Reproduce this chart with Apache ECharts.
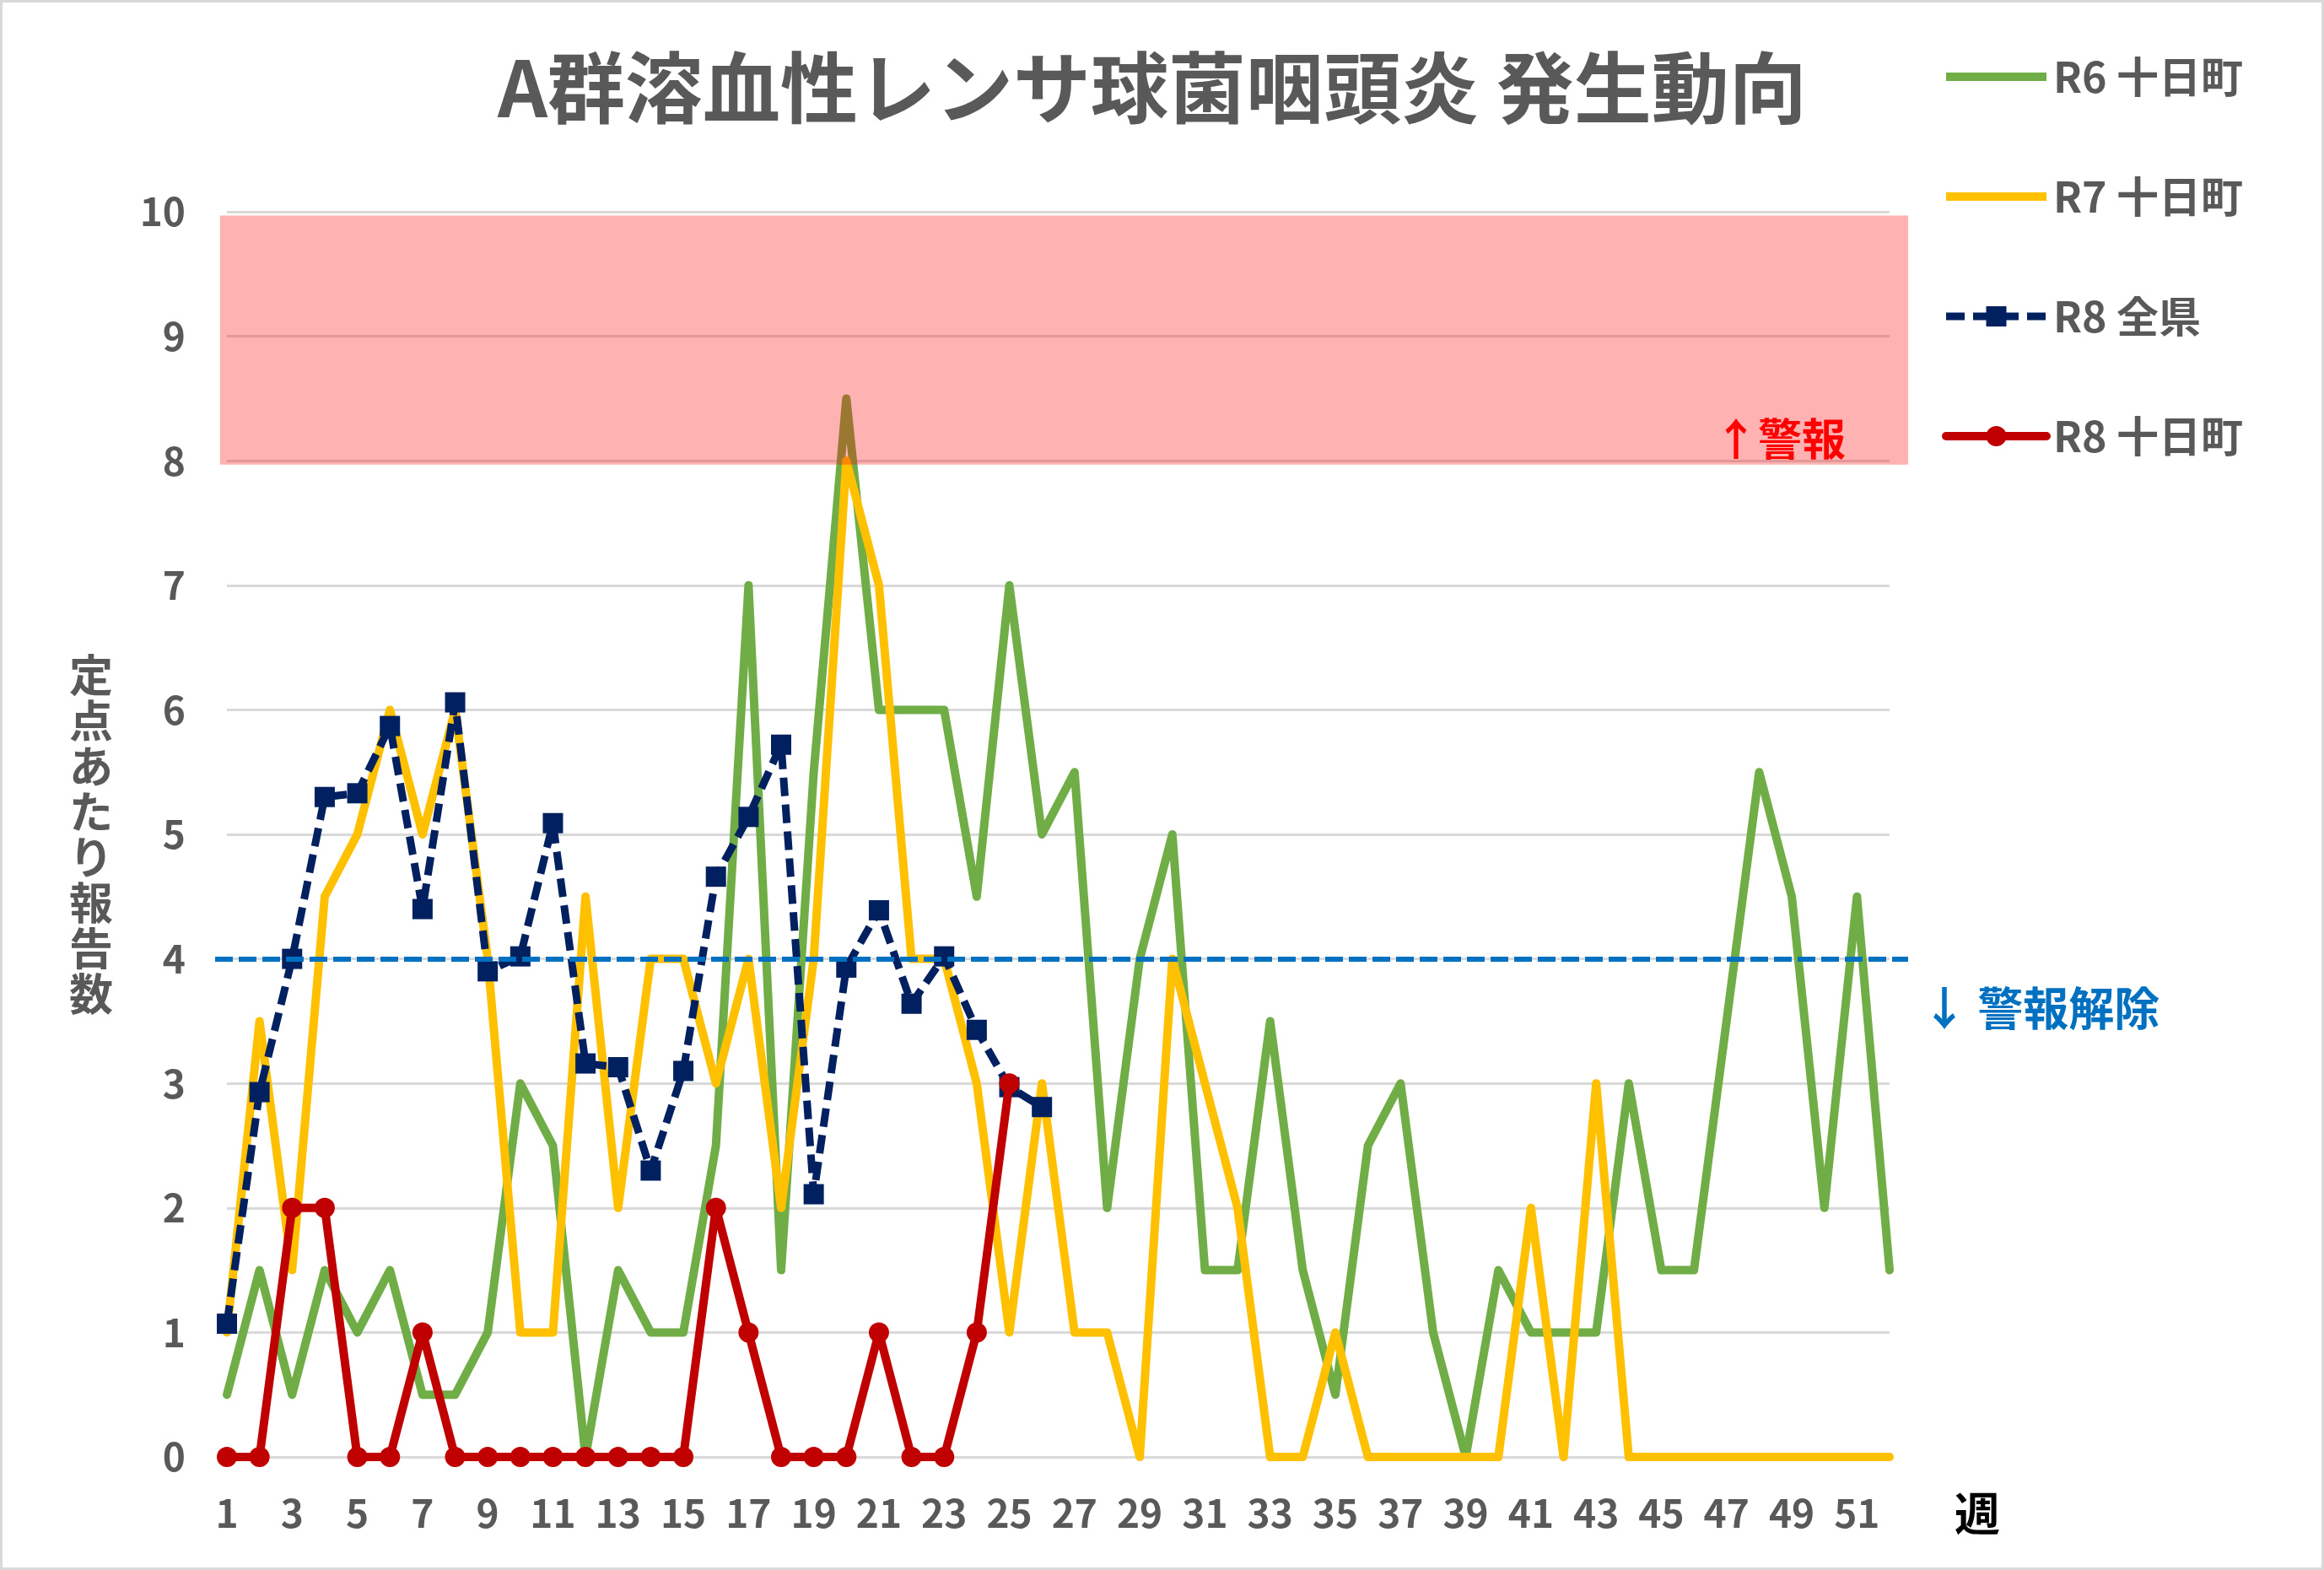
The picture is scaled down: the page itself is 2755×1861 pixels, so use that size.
<!DOCTYPE html>
<html lang="ja">

<head>
    <meta charset="UTF-8">
    <title>A群溶血性レンサ球菌咽頭炎 発生動向</title>
    <script src="https://cdn.jsdelivr.net/npm/echarts@6/dist/echarts.min.js"></script>
    <style>
        body {
            margin: 0;
            background-color: #ffffff;
        }

        #chart {
            position: absolute;
            left: 0;
            top: 0;
            width: 2755px;
            height: 1861px;
            box-sizing: border-box;
            border: 3px solid #d9d9d9; /* outer frame like the Excel chart area */
        }
    </style>
</head>

<body>
    <div id="chart"></div>

    <script>
        // Weeks 1..52
        var weeks = ['1', '2', '3', '4', '5', '6', '7', '8', '9', '10',
            '11', '12', '13', '14', '15', '16', '17', '18', '19', '20',
            '21', '22', '23', '24', '25', '26', '27', '28', '29', '30',
            '31', '32', '33', '34', '35', '36', '37', '38', '39', '40',
            '41', '42', '43', '44', '45', '46', '47', '48', '49', '50',
            '51', '52'];

        // R6 十日町
        var r6Town = [0.5, 1.5, 0.5, 1.5, 1, 1.5, 0.5, 0.5, 1, 3,
            2.5, 0, 1.5, 1, 1, 2.5, 7, 1.5, 5.5, 8.5,
            6, 6, 6, 4.5, 7, 5, 5.5, 2, 4, 5,
            1.5, 1.5, 3.5, 1.5, 0.5, 2.5, 3, 1, 0, 1.5,
            1, 1, 1, 3, 1.5, 1.5, 3.5, 5.5, 4.5, 2,
            4.5, 1.5];

        // R7 十日町
        var r7Town = [1, 3.5, 1.5, 4.5, 5, 6, 5, 6, 4, 1,
            1, 4.5, 2, 4, 4, 3, 4, 2, 4, 8,
            7, 4, 4, 3, 1, 3, 1, 1, 0, 4,
            3, 2, 0, 0, 1, 0, 0, 0, 0, 0,
            2, 0, 3, 0, 0, 0, 0, 0, 0, 0,
            0, 0];

        // R8 全県 (up to week 26)
        var r8Pref = [1.07, 2.93, 4.0, 5.3, 5.33, 5.87, 4.4, 6.06, 3.9, 4.02,
            5.09, 3.16, 3.13, 2.3, 3.1, 4.66, 5.14, 5.72, 2.11, 3.93,
            4.39, 3.64, 4.02, 3.43, 2.97, 2.81];

        // R8 十日町 (up to week 25)
        var r8Town = [0, 0, 2, 2, 0, 0, 1, 0, 0, 0,
            0, 0, 0, 0, 0, 2, 1, 0, 0, 0,
            1, 0, 0, 1, 3];

        var yTicks = [0, 1, 2, 3, 4, 5, 6, 7, 8, 9, 10];

        // 警報 band and 警報解除 level
        var alarmBand = [7.97, 9.97];
        var alarmOff = 4;

        var gray = '#595959';
        var font = '"Noto Sans CJK JP", "Noto Sans", sans-serif';
        // plain bar used as legend icon for the lines without markers
        var barIcon = 'path://M0,0 M0,10 L120,10 L120,20 L0,20 Z M120,30';

        var chart = echarts.init(document.getElementById('chart'));

        var option = {
            backgroundColor: '#ffffff',
            animation: false,
            textStyle: { fontFamily: font },
            title: {
                text: 'A群溶血性レンサ球菌咽頭炎 発生動向',
                left: 582,
                top: 50,
                textStyle: {
                    fontFamily: font,
                    fontSize: 92,
                    fontWeight: 'bold',
                    color: gray
                }
            },
            legend: {
                orient: 'vertical',
                left: 2294,
                top: 58,
                itemWidth: 119,
                itemHeight: 30,
                itemGap: 92,
                lineStyle: { width: 'inherit' },
                data: [
                    { name: 'R6 十日町', icon: barIcon },
                    { name: 'R7 十日町', icon: barIcon },
                    { name: 'R8 全県' },
                    { name: 'R8 十日町' }
                ],
                textStyle: {
                    fontFamily: font,
                    fontSize: 50,
                    lineHeight: 50,
                    fontWeight: 'bold',
                    color: gray,
                    padding: [0, 0, 0, 3]
                }
            },
            grid: [{
                left: 266,
                top: 248,
                right: 512,
                bottom: 131
            }, {
                // slightly wider helper grid: the band and the 4.0 line overhang the plot
                left: 252,
                top: 248,
                right: 490,
                bottom: 131
            }],
            xAxis: [{
                type: 'category',
                data: weeks,
                boundaryGap: false,
                name: '週',
                nameLocation: 'end',
                nameGap: 77,
                nameTextStyle: {
                    fontFamily: font,
                    fontSize: 54,
                    fontWeight: 'bold',
                    color: '#000000',
                    align: 'left',
                    verticalAlign: 'top',
                    padding: [40, 0, 0, 0]
                },
                axisLine: { show: false },
                axisTick: { show: false },
                axisLabel: {
                    interval: 1,
                    margin: 44,
                    fontFamily: font,
                    fontSize: 46,
                    fontWeight: 'bold',
                    color: gray
                },
                splitLine: { show: false }
            }, {
                gridIndex: 1,
                type: 'value',
                min: 0.64,
                max: 52.57,
                show: false
            }],
            yAxis: [{
                type: 'value',
                min: yTicks[0],
                max: yTicks[yTicks.length - 1],
                interval: 1,
                name: '定点あたり報告数'.split('').join('\n'),
                nameLocation: 'middle',
                nameRotate: 0,
                nameGap: 135,
                nameTextStyle: {
                    fontFamily: font,
                    fontSize: 52,
                    lineHeight: 54,
                    fontWeight: 'bold',
                    color: gray
                },
                axisLine: { show: false },
                axisTick: { show: false },
                axisLabel: {
                    margin: 49,
                    fontFamily: font,
                    fontSize: 46,
                    fontWeight: 'bold',
                    color: gray
                },
                splitLine: {
                    lineStyle: { color: '#d9d9d9', width: 3 }
                }
            }, {
                gridIndex: 1,
                type: 'value',
                min: yTicks[0],
                max: yTicks[yTicks.length - 1],
                show: false
            }],
            series: [{
                name: 'R6 十日町',
                type: 'line',
                data: r6Town,
                symbol: 'none',
                lineStyle: { color: '#70AD47', width: 10, join: 'round', cap: 'round' },
                itemStyle: { color: '#70AD47' },
                z: 2
            }, {
                name: 'R7 十日町',
                type: 'line',
                data: r7Town,
                symbol: 'none',
                lineStyle: { color: '#FFC000', width: 10, join: 'round', cap: 'round' },
                itemStyle: { color: '#FFC000' },
                z: 3
            }, {
                name: 'R8 全県',
                type: 'line',
                data: r8Pref,
                symbol: 'rect',
                symbolSize: 24,
                lineStyle: { color: '#002060', width: 9, type: [22, 10] },
                itemStyle: { color: '#002060' },
                z: 4
            }, {
                name: 'R8 十日町',
                type: 'line',
                data: r8Town,
                symbol: 'circle',
                symbolSize: 24,
                lineStyle: { color: '#C00000', width: 10, join: 'round', cap: 'round' },
                itemStyle: { color: '#C00000' },
                z: 5
            }, {
                // alarm band and alarm-off line
                name: 'levels',
                type: 'line',
                xAxisIndex: 1,
                yAxisIndex: 1,
                data: [],
                clip: false,
                silent: true,
                markArea: {
                    z: 10,
                    silent: true,
                    itemStyle: { color: 'rgba(255, 0, 0, 0.3)' },
                    label: {
                        show: true,
                        position: 'insideBottomRight',
                        distance: 4,
                        offset: [-70, 0],
                        formatter: '↑警報',
                        fontFamily: font,
                        fontSize: 52,
                        fontWeight: 'bold',
                        color: '#FF0000'
                    },
                    data: [[
                        { xAxis: 0.79, yAxis: alarmBand[0] },
                        { xAxis: 52.57, yAxis: alarmBand[1] }
                    ]]
                },
                markLine: {
                    silent: true,
                    symbol: 'none',
                    lineStyle: { color: '#0070C0', width: 6, type: [21, 7] },
                    label: {
                        show: true,
                        position: 'end',
                        distance: 16,
                        offset: [0, 59],
                        formatter: '↓ 警報解除',
                        fontFamily: font,
                        fontSize: 54,
                        fontWeight: 'bold',
                        color: '#0070C0'
                    },
                    data: [[
                        { xAxis: 0.64, yAxis: alarmOff },
                        { xAxis: 52.57, yAxis: alarmOff }
                    ]]
                }
            }]
        };

        chart.setOption(option);
    </script>
</body>

</html>
